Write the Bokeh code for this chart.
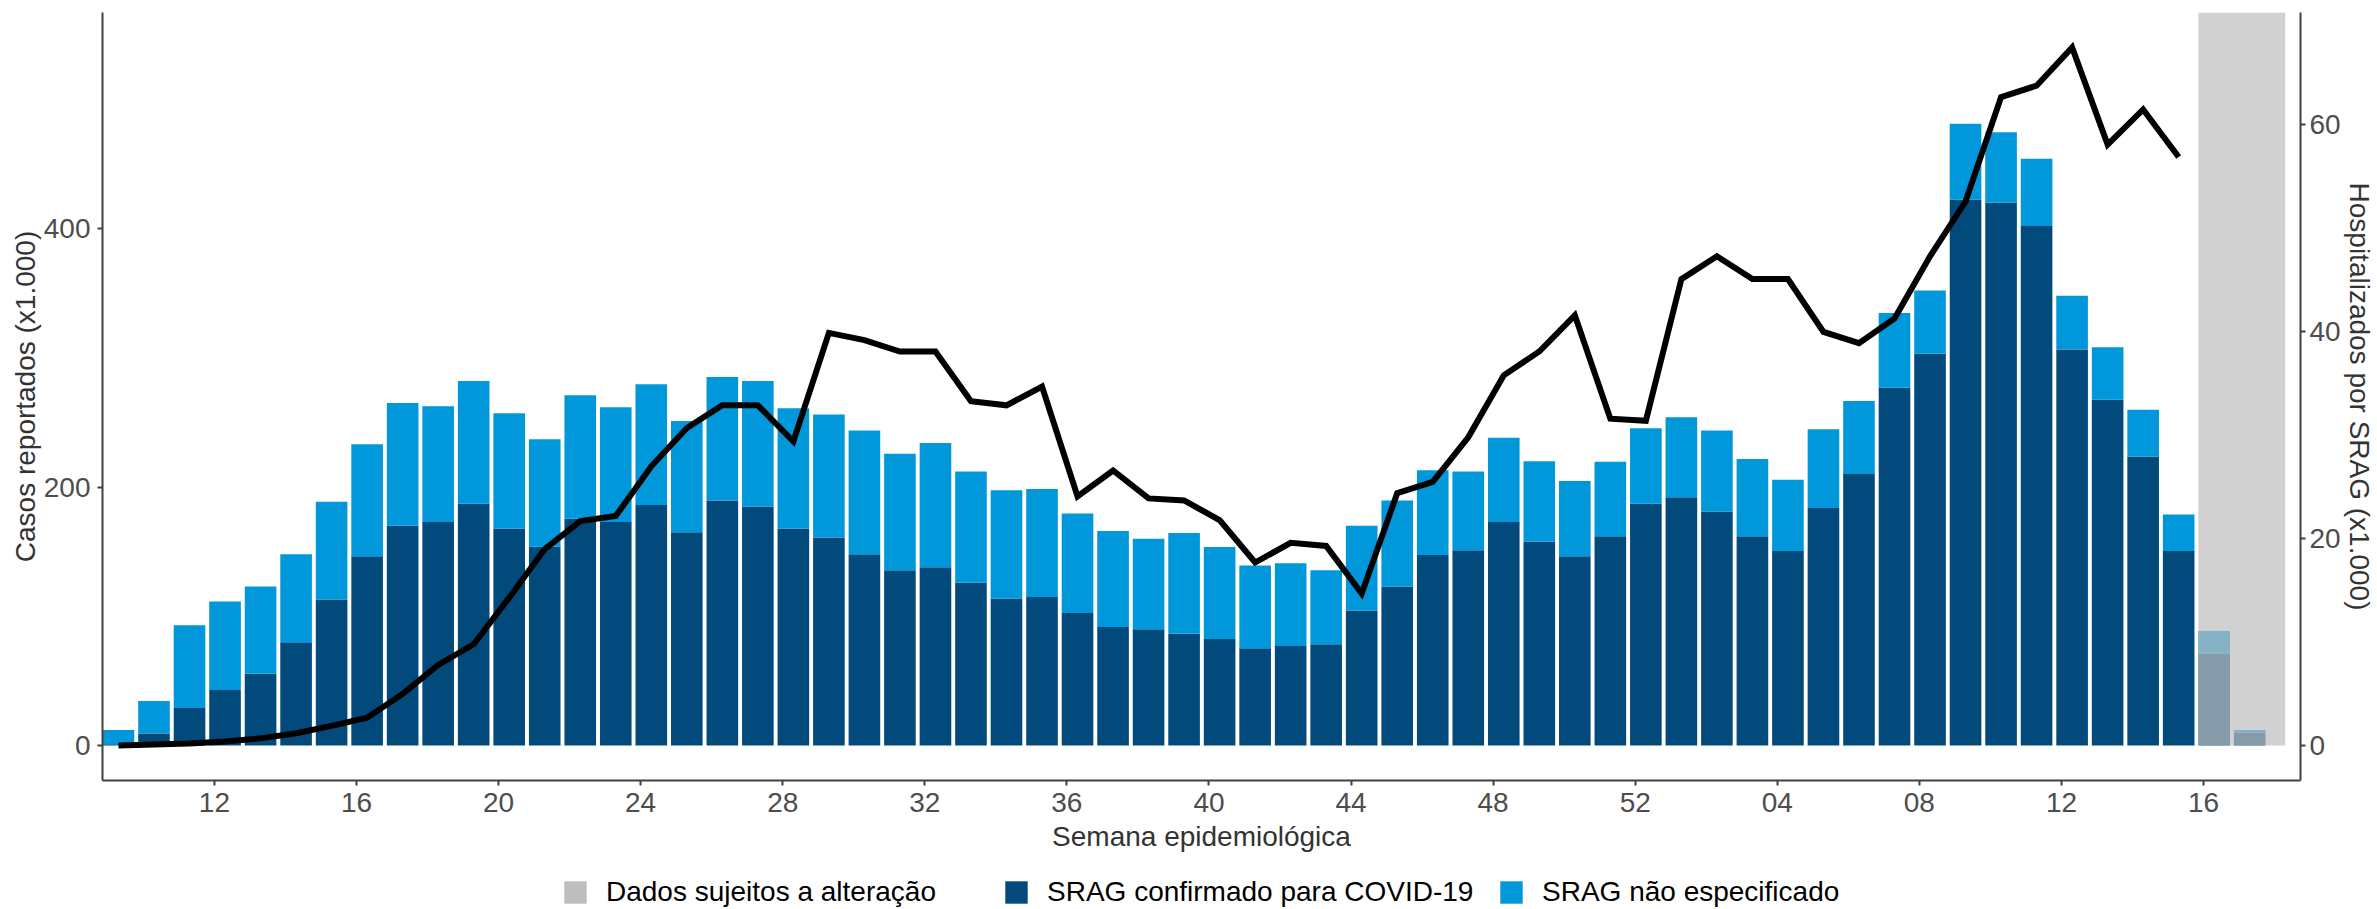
import numpy as np
from bokeh.plotting import figure
from bokeh.layouts import column
from bokeh.models import (Range1d, LinearAxis, FixedTicker, Legend, LegendItem,
                          ColumnDataSource)
from bokeh.embed import file_html
from bokeh.resources import INLINE

# ---------------- data (x1.000) ----------------
# SRAG confirmado para COVID-19, per week (61 weeks, first bar = 2020 week 09)
confirmados = [1, 9.4, 29, 43, 55.5, 80, 113, 146.5, 170, 173, 187, 168, 154, 175.6,
               173, 186, 165, 189.5, 185, 168, 161, 148, 135.7, 138, 126, 113.8, 115,
               102.6, 91.8, 90, 86.5, 82.4, 75.3, 77, 78.4, 104.4, 123, 147.4, 151, 173,
               157.7, 146.5, 162, 187, 192, 181, 162, 150.5, 183.7, 210, 276.8, 303,
               422.4, 420, 401.8, 306.4, 267.4, 223.5, 150.5, 71.2, 9.9]
# SRAG não especificado (stacked on top)
nao_especificado = [11, 25, 64, 68.5, 67.5, 68, 75.6, 86.5, 95, 89.5, 95, 89, 83, 95.4,
                    88.6, 93.5, 86, 95.5, 97, 93, 95, 95.7, 90, 96, 86, 83.7, 83.4, 77,
                    74.2, 70, 77.9, 71.2, 64, 64, 57.3, 65.6, 66.5, 65.6, 61, 65, 62.3,
                    58.2, 57.5, 58.5, 62, 62.7, 59.7, 55.1, 60.9, 56.5, 57.8, 49, 58.6,
                    54.4, 52, 41.6, 40.6, 36.3, 28.2, 17.5, 2.1]
# Hospitalizados por SRAG (right axis), available up to the last consolidated week
hospitalizados = [0.0, 0.1, 0.2, 0.4, 0.7, 1.2, 1.9, 2.7, 5.0, 7.8, 9.8, 14.3, 19.0, 21.7,
                  22.2, 27.0, 30.7, 32.9, 32.9, 29.4, 39.9, 39.2, 38.1, 38.1, 33.3, 32.9,
                  34.7, 24.1, 26.6, 23.9, 23.7, 21.8, 17.7, 19.6, 19.3, 14.7, 24.4, 25.5,
                  29.8, 35.8, 38.1, 41.6, 31.6, 31.4, 45.1, 47.3, 45.1, 45.1, 40.0, 38.9,
                  41.3, 47.3, 52.6, 62.7, 63.8, 67.5, 58.1, 61.5, 56.9]
# weeks whose data are still subject to change (indices of bars)
semanas_sujeitas = [59, 60]
# x tick labels (every 4 weeks)
tick_labels = ["12", "16", "20", "24", "28", "32", "36", "40", "44", "48", "52",
               "04", "08", "12", "16"]
legend_labels = ["Dados sujeitos a alteração", "SRAG confirmado para COVID-19",
                 "SRAG não especificado"]

ESCALA = 8  # secondary axis: hospitalizados = casos / 8

# ---------------- styles ----------------
COR_CONF = "#034A7C"
COR_NE = "#0098DA"
COR_CINZA = "#BEBEBE"
FONT = "Liberation Sans"
BAR_W = 0.89
TICK_OFFSET = 2.7  # position of first labelled tick relative to the first bar
W = 2377
H_PLOT = 870
H_LEG = 909 - H_PLOT
FRAME_LEFT = 102

n = len(confirmados)
x = np.arange(n)
src = ColumnDataSource(dict(x=x, confirmados=confirmados, nao_especificado=nao_especificado))

totais = np.array(confirmados) + np.array(nao_especificado)
top_val = max(totais.max(), max(hospitalizados) * ESCALA)
pad = 0.05 * top_val
y_lo, y_hi = -pad, top_val + pad

p = figure(width=W, height=H_PLOT, output_backend="svg", toolbar_location=None,
           x_range=Range1d(-0.45, n + 0.43), y_range=Range1d(y_lo, y_hi),
           min_border_left=FRAME_LEFT, min_border_right=72, min_border_top=12,
           min_border_bottom=H_PLOT - 780)
p.extra_y_ranges = {"hosp": Range1d(y_lo / ESCALA, y_hi / ESCALA)}
p.xgrid.visible = False
p.ygrid.visible = False
p.outline_line_color = None
p.background_fill_color = "white"
p.border_fill_color = "white"

bars = p.vbar_stack(["confirmados", "nao_especificado"], x="x", width=BAR_W,
                    fill_color=[COR_CONF, COR_NE], line_color=None, source=src)

# shaded region: data subject to change
p.quad(left=[min(semanas_sujeitas) - BAR_W / 2], right=[max(semanas_sujeitas) + 1],
       bottom=[0], top=[y_hi], fill_color=COR_CINZA, fill_alpha=0.7, line_color=None)

p.line(x[:len(hospitalizados)], hospitalizados, y_range_name="hosp",
       line_color="black", line_width=6, line_join="miter")

# ---------------- axes ----------------
ticks = [TICK_OFFSET + 4 * k for k in range(len(tick_labels))]
p.xaxis.ticker = FixedTicker(ticks=ticks)
p.xaxis.major_label_overrides = {t: lab for t, lab in zip(ticks, tick_labels)}
p.xaxis.axis_label = "Semana epidemiológica"
p.yaxis.ticker = FixedTicker(ticks=[0, 200, 400])
p.yaxis.axis_label = "Casos reportados (x1.000)"

ax_r = LinearAxis(y_range_name="hosp", ticker=FixedTicker(ticks=[0, 20, 40, 60]),
                  axis_label="Hospitalizados por SRAG (x1.000)")
p.add_layout(ax_r, "right")

for ax in [p.xaxis[0], p.yaxis[0], ax_r]:
    ax.axis_line_color = "#404040"
    ax.axis_line_width = 2
    ax.major_tick_line_color = "#404040"
    ax.major_tick_line_width = 2
    ax.major_tick_out = 5
    ax.major_tick_in = 0
    ax.minor_tick_line_color = None
    ax.major_label_text_font = FONT
    ax.major_label_text_font_size = "28px"
    ax.major_label_text_color = "#4D4D4D"
    ax.axis_label_text_font = FONT
    ax.axis_label_text_font_size = "28px"
    ax.axis_label_text_font_style = "normal"
    ax.axis_label_text_color = "#333333"

p.xaxis.major_label_standoff = 7
p.xaxis.axis_label_standoff = 6
p.yaxis.major_label_standoff = 7
p.yaxis.axis_label_standoff = 0
ax_r.major_label_standoff = 4
ax_r.axis_label_standoff = 0

# ---------------- legend strip (separate canvas under the plot) ----------------
lf = figure(width=W, height=H_LEG, output_backend="svg", toolbar_location=None,
            x_range=Range1d(0, 1), y_range=Range1d(0, 1),
            x_axis_type=None, y_axis_type=None,
            min_border_left=0, min_border_right=0, min_border_top=0, min_border_bottom=0)
lf.xgrid.visible = False
lf.ygrid.visible = False
lf.outline_line_color = None
lf.background_fill_color = "white"
lf.border_fill_color = "white"

key_colors = [COR_CINZA, COR_CONF, COR_NE]
key_x = [561, 1002, 1497]  # left edge of each legend key, page pixels
for lab, col, kx in zip(legend_labels, key_colors, key_x):
    # zero-size proxy glyph, only used to draw the legend key
    r = lf.quad(left=[0], right=[0], bottom=[0], top=[0], fill_color=col, line_color=None)
    lg = Legend(items=[LegendItem(label=lab, renderers=[r])],
                location=(kx - FRAME_LEFT, 1), orientation="horizontal",
                padding=0, margin=0, border_line_color=None, background_fill_alpha=0,
                glyph_width=28, glyph_height=28, label_height=28, label_standoff=17,
                label_text_font=FONT, label_text_font_size="28px", label_text_color="black")
    lf.add_layout(lg, "center")

layout = column(p, lf, spacing=0)
open("out.html", "w").write(file_html(layout, INLINE))
